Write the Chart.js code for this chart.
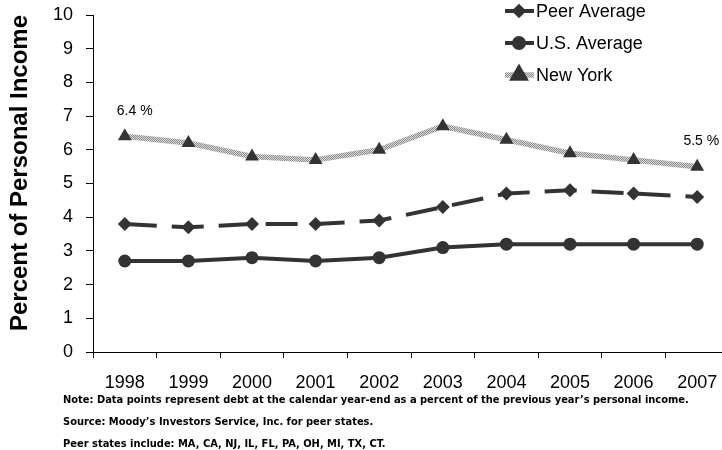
<!DOCTYPE html>
<html>
<head>
<meta charset="utf-8">
<script src="https://cdn.jsdelivr.net/npm/chart.js@4/dist/chart.umd.min.js"></script>
<style>
  html, body { margin: 0; padding: 0; background: #fff; }
  #wrap { position: relative; width: 722px; height: 450px; overflow: hidden; }
  #debtChart { position: absolute; left: 0; top: 0; }
  .note {
    position: absolute; left: 63px; white-space: nowrap;
    font: bold 11px 'Liberation Sans Narrow', 'Arial Narrow', 'DejaVu Sans Condensed', sans-serif;
    color: #000;
  }
</style>
</head>
<body>
<div id="wrap">
  <canvas id="debtChart" width="737" height="450"></canvas>
  <div class="note" style="top:393px">Note: Data points represent debt at the calendar year-end as a percent of the previous year’s personal income.</div>
  <div class="note" style="top:415px">Source: Moody’s Investors Service, Inc. for peer states.</div>
  <div class="note" style="top:437px">Peer states include: MA, CA, NJ, IL, FL, PA, OH, MI, TX, CT.</div>
</div>
<script>
// Dados
const years = ['1998', '1999', '2000', '2001', '2002', '2003', '2004', '2005', '2006', '2007'];
const peerAverage = [3.8, 3.7, 3.8, 3.8, 3.9, 4.3, 4.7, 4.8, 4.7, 4.6];
const usAverage = [2.7, 2.7, 2.8, 2.7, 2.8, 3.1, 3.2, 3.2, 3.2, 3.2];
const newYork = [6.4, 6.2, 5.8, 5.7, 6.0, 6.7, 6.3, 5.9, 5.7, 5.5];
const nyLabels = ['6.4 %', '', '', '', '', '', '', '', '', '5.5 %'];

const dark = '#333333';
const fontFamily = "'Liberation Sans', Arial, sans-serif";

// textura cinza da linha de Nova York
const pc = document.createElement('canvas');
pc.width = 2; pc.height = 2;
const pctx = pc.getContext('2d');
pctx.fillStyle = '#dcdcdc'; pctx.fillRect(0, 0, 2, 2);
pctx.fillStyle = '#8a8a8a'; pctx.fillRect(0, 0, 1, 1); pctx.fillRect(1, 1, 1, 1);
const nyPattern = pctx.createPattern(pc, 'repeat');

const ctx = document.getElementById('debtChart').getContext('2d');

const legendRadius = [4.5, 5, 6];

// legenda vertical no canto superior direito + título do eixo Y
const legendPlugin = {
    id: 'stackedLegend',
    afterDraw(chart) {
        const c = chart.ctx;
        c.save();
        chart.data.datasets.forEach((ds, i) => {
            const y = 11 + i * 32;
            c.strokeStyle = ds.borderColor;
            c.lineWidth = ds.borderWidth;
            c.setLineDash([]);
            c.beginPath();
            c.moveTo(505, y);
            c.lineTo(534, y);
            c.stroke();
            c.fillStyle = dark;
            c.strokeStyle = dark;
            Chart.helpers.drawPoint(c, { pointStyle: ds.pointStyle, radius: legendRadius[i], rotation: 0, borderWidth: 1 }, 519, y);
            c.fillStyle = '#000';
            c.font = '18px ' + fontFamily;
            c.textBaseline = 'middle';
            c.textAlign = 'left';
            c.fillText(ds.label, 536, y + 1);
        });
        // título do eixo Y
        c.translate(20, 173);
        c.rotate(-Math.PI / 2);
        c.font = 'bold 24px ' + fontFamily;
        c.textAlign = 'center';
        c.textBaseline = 'middle';
        c.fillText('Percent of Personal Income', 0, 0);
        c.restore();
    }
};

// rótulos de valor do primeiro e último ponto de NY
const valueLabelPlugin = {
    id: 'valueLabels',
    afterDatasetsDraw(chart) {
        const meta = chart.getDatasetMeta(2);
        const c = chart.ctx;
        c.save();
        c.fillStyle = '#000';
        c.font = '14px ' + fontFamily;
        c.textBaseline = 'middle';
        nyLabels.forEach((txt, i) => {
            if (!txt) return;
            const p = meta.data[i];
            if (i === 0) {
                c.textAlign = 'left';
                c.fillText(txt, p.x - 8, p.y - 25);
            } else {
                c.textAlign = 'right';
                c.fillText(txt, p.x + 22, p.y - 26);
            }
        });
        c.restore();
    }
};

const config = {
    type: 'line',
    data: {
        labels: years,
        datasets: [
            {
                label: 'Peer Average',
                data: peerAverage,
                borderColor: dark,
                backgroundColor: dark,
                borderWidth: 4,
                borderDash: [32, 15],
                pointStyle: 'rectRot',
                pointRadius: 7,
                pointBorderWidth: 0,
                tension: 0,
                fill: false
            },
            {
                label: 'U.S. Average',
                data: usAverage,
                borderColor: dark,
                backgroundColor: dark,
                borderWidth: 4,
                pointStyle: 'circle',
                pointRadius: 6.5,
                pointBorderWidth: 0,
                tension: 0,
                fill: false
            },
            {
                label: 'New York',
                data: newYork,
                borderColor: nyPattern,
                backgroundColor: dark,
                borderWidth: 5.5,
                pointStyle: 'triangle',
                pointRadius: 8,
                pointBorderWidth: 0,
                pointBorderColor: dark,
                tension: 0,
                fill: false
            }
        ]
    },
    options: {
        responsive: false,
        animation: false,
        layout: { padding: { top: 15, right: 0, left: 0, bottom: 0 } },
        plugins: {
            legend: { display: false },
            tooltip: { enabled: false }
        },
        scales: {
            x: {
                offset: true,
                grid: { drawOnChartArea: false, drawTicks: true, tickLength: 6, color: '#000', offset: true },
                border: { display: true, color: '#000', width: 1 },
                ticks: { color: '#000', font: { size: 18, family: fontFamily }, padding: 14, maxRotation: 0, autoSkip: false },
                afterFit(scale) {
                    scale.height = 98;
                    scale.paddingLeft = 0;
                    scale.paddingRight = 0;
                }
            },
            y: {
                min: 0,
                max: 10,
                grid: { drawOnChartArea: false, drawTicks: true, tickLength: 7, color: '#000' },
                border: { display: true, color: '#000', width: 1 },
                ticks: { stepSize: 1, color: '#000', font: { size: 18, family: fontFamily }, padding: 13 },
                afterFit(scale) {
                    scale.width = 93;
                    scale.paddingTop = 0;
                    scale.paddingBottom = 0;
                }
            }
        }
    },
    plugins: [legendPlugin, valueLabelPlugin]
};

const debtChart = new Chart(ctx, config);
</script>
</body>
</html>
